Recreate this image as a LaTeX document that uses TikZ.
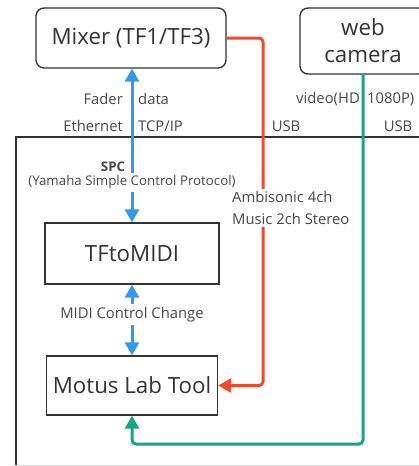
\documentclass[tikz,border=0pt]{standalone}
\usepackage{fontspec}
\setmainfont{Open Sans}
\usepackage{xcolor}
\usetikzlibrary{arrows.meta,positioning}
\definecolor{spcblue}{HTML}{2E9BF0}
\definecolor{audiored}{HTML}{F24A2A}
\definecolor{videogreen}{HTML}{17A589}
\definecolor{boxline}{HTML}{333333}
\definecolor{lbltext}{HTML}{474747}

\begin{document}
\begin{tikzpicture}[x=1pt,y=-1pt,
    box/.style={draw=boxline,line width=1.3pt,text=boxline,
        font=\fontsize{22.3}{27}\selectfont,align=center},
    device/.style={box,rounded corners=8pt},
    lbl/.style={text=lbltext,font=\fontsize{14.8}{22}\selectfont,inner sep=1pt},
    flow/.style={line width=3pt,-{Triangle[width=14pt,length=13pt]}},
    flows/.style={line width=3pt,{Triangle[width=14pt,length=13pt]}-{Triangle[width=14pt,length=13pt]}}]
    \useasboundingbox (0,0) rectangle (419,466);
    % outer frame
    \draw[boxline,line width=1.2pt] (16,465) -- (16,137) -- (425,137);
    \draw[black!15,line width=1pt] (16,465) -- (419,465);
    % devices
    \node[device,minimum width=190pt,minimum height=60pt] (mixer) at (131,38) {Mixer (TF1/TF3)};
    \node[device,minimum width=126pt,minimum height=66pt] (webcam) at (363,41) {web\\[0pt]camera};
    \node[box,minimum width=174pt,minimum height=61pt] (tftomidi) at (132,253.5) {TFtoMIDI};
    \node[box,minimum width=171pt,minimum height=59pt] (motus) at (132,385.5) {Motus Lab Tool};
    \coordinate (redturn) at (263,385.5);
    \coordinate (greenturn) at (363,444);
    % link labels
    \node[lbl,anchor=east] (fader) at (124,99) {Fader};
    \node[lbl,anchor=west] (fdata) at (137,99) {data};
    \node[lbl,anchor=east] (ether) at (124,126) {Ethernet};
    \node[lbl,anchor=west] (tcpip) at (137,126) {TCP/IP};
    \node[lbl] (usbaudio) at (286,126) {USB};
    \node[lbl,anchor=east] (video) at (361,99) {video(HD};
    \node[lbl,anchor=west] (hd) at (366,99) {1080P)};
    \node[lbl] (usbvideo) at (398,126) {USB};
    \node[lbl,font=\fontsize{13.3}{15}\selectfont\bfseries] (spc) at (113,167) {SPC};
    % connectors
    \draw[flow,audiored,rounded corners=4pt] (mixer.east) -| (redturn) -- (motus.east);
    \node[lbl,fill=white,align=left,anchor=west,inner sep=2pt] (audio) at (230,208)
        {Ambisonic 4ch\\Music 2ch Stereo};
    \draw[flows,spcblue] (tftomidi.north) -- node[lbl,fill=white,pos=0.26,inner sep=3pt,
        font=\fontsize{13.3}{15}\selectfont] (yamaha) {(Yamaha Simple Control Protocol)}
        (tftomidi.north |- mixer.south);
    \draw[flows,spcblue] (tftomidi.south) --
        node[lbl,fill=white,pos=0.42,inner sep=3pt] (midicc) {MIDI Control Change} (motus.north);
    \draw[flow,videogreen,rounded corners=4pt] (webcam.south) -- (greenturn) -| (motus.south);
\end{tikzpicture}
\end{document}
